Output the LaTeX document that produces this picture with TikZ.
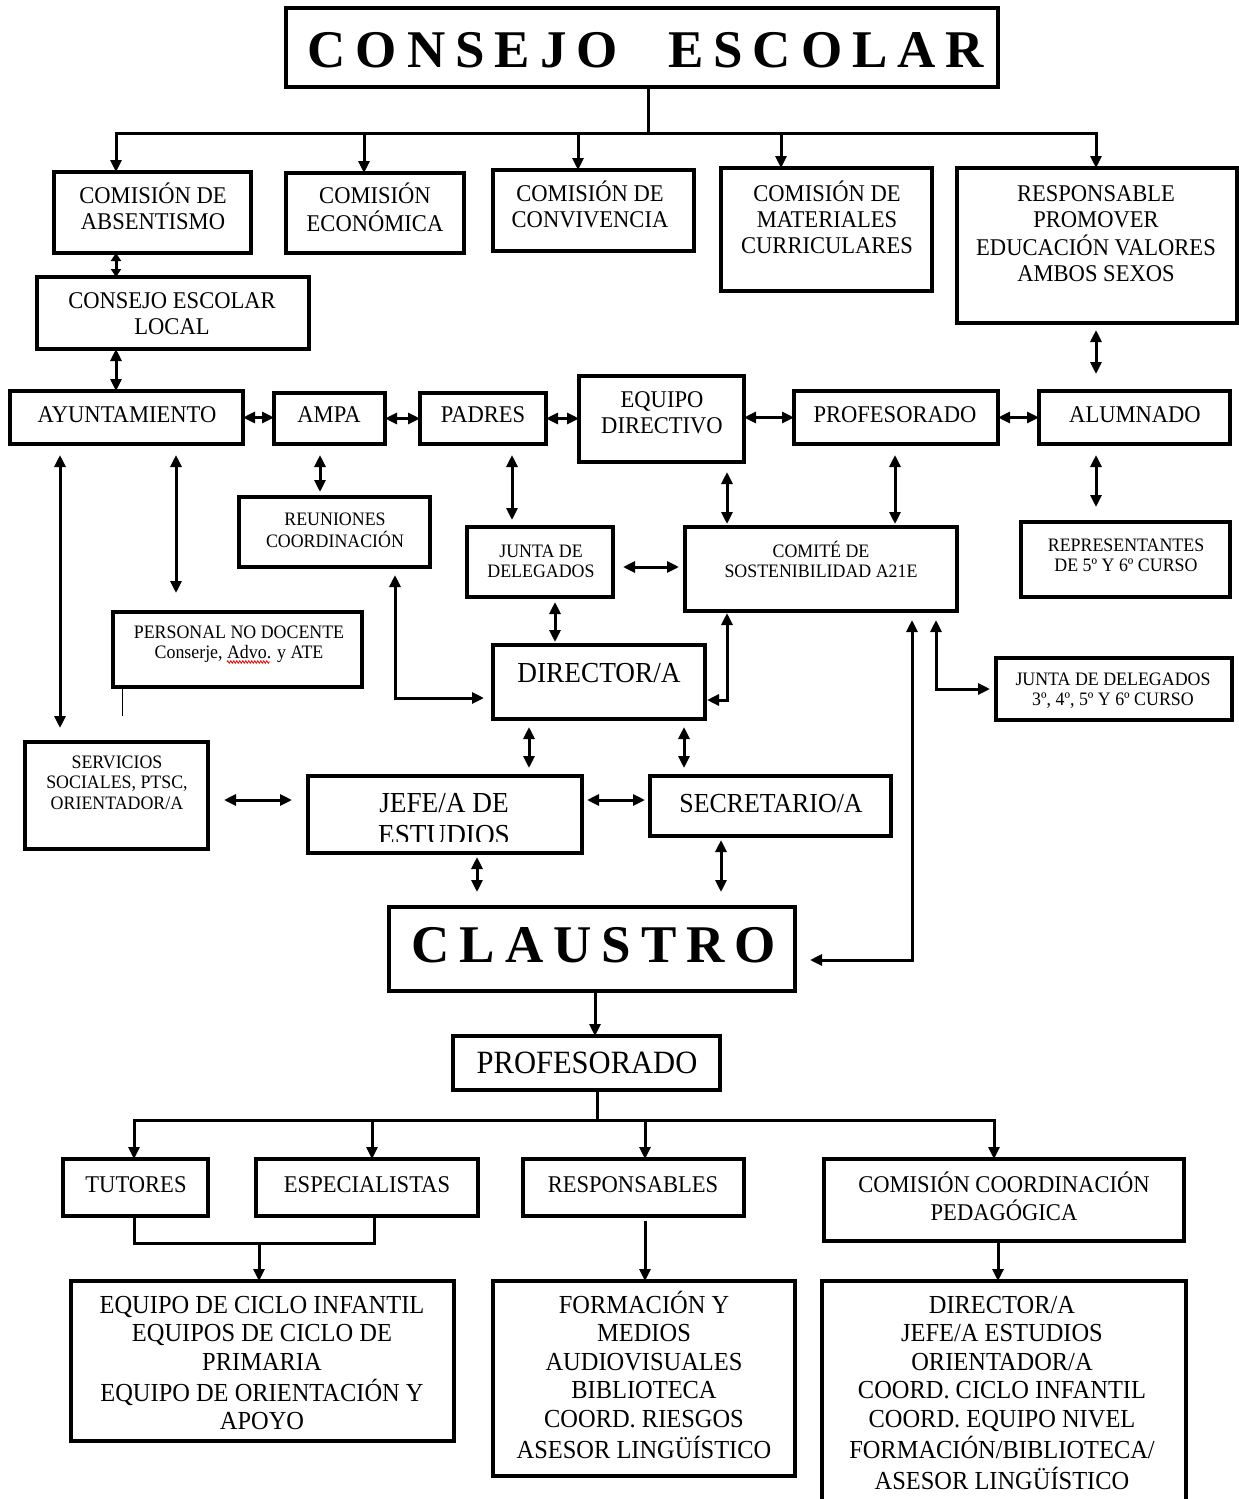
\documentclass[tikz,border=0pt]{standalone}
\usepackage{fontspec}
\setmainfont{Liberation Serif}
\usepackage{graphicx}
\usetikzlibrary{arrows.meta,fit,decorations.pathmorphing}
\tikzset{
  box/.style={draw, line width=3.3pt, inner sep=0pt, outer sep=0pt},
  ln/.style={line width=3pt, line cap=rect},
  arr/.style={ln, -{Triangle[length=12pt,width=11pt]}},
  dbl/.style={ln, {Triangle[length=12pt,width=11pt]}-{Triangle[length=12pt,width=11pt]}},
  dblsmall/.style={ln, {Triangle[length=8pt,width=10pt]}-{Triangle[length=8pt,width=10pt]}},
}
\newcommand\fN{\fontsize{24}{26}\selectfont}
\newcommand\fS{\fontsize{19}{20.5}\selectfont}
\newcommand\fB{\fontsize{26}{28.6}\selectfont}
\newcommand\fL{\fontsize{29}{32}\selectfont}
\newcommand\fT{\fontsize{53}{60}\selectfont\bfseries}
\newcommand\lsk{\kern10pt}
\newcommand\lbl[4]{\node[anchor=base, inner sep=0pt, font=#3] (#1) at (#2) {\scalebox{0.94}[1]{\begin{tabular}[t]{@{}c@{}}#4\end{tabular}}};}
\newcommand\bx[3]{\node[box, fit={(#2) (#3)}] (#1) {};}
\begin{document}
\begin{tikzpicture}[x=1pt,y=-1pt]
\useasboundingbox (0,0) rectangle (1239,1499);
% ---------- boxes
\bx{title}{286,8}{998,87}
\bx{abs}{54,172}{251,253}
\bx{eco}{286,173}{464,253}
\bx{conv}{493,170}{694,251}
\bx{mat}{721,168}{932,291}
\bx{resp}{957,168}{1237,323}
\bx{cel}{37,277}{309,349}
\bx{ayunt}{10,391}{243,444}
\bx{ampa}{274,393}{385,444}
\bx{padres}{420,393}{546,444}
\bx{eqdir}{579,376}{744,462}
\bx{prof}{794,391}{998,444}
\bx{alum}{1039,391}{1230,444}
\bx{reu}{239,497}{430,567}
\bx{junta}{467,527}{613,597}
\bx{comite}{685,527}{957,611}
\bx{repr}{1021,522}{1230,597}
\bx{pers}{113,612}{362,687}
\bx{dir}{493,645}{705,719}
\bx{junta2}{996,658}{1232,720}
\bx{serv}{25,742}{208,849}
\bx{jefe}{308,776}{582,853}
\bx{secr}{650,776}{891,836}
\bx{claus}{389,907}{795,991}
\bx{prof2}{453,1036}{720,1090}
\bx{tut}{63,1159}{208,1216}
\bx{esp}{256,1159}{478,1216}
\bx{respb}{523,1159}{744,1216}
\bx{ccp}{824,1159}{1184,1241}
\bx{eqc}{71,1281}{454,1441}
\bx{form}{493,1281}{795,1476}
\bx{dir2}{822,1281}{1186,1512}
% ---------- texts
\node[anchor=base, inner sep=0pt, font=\fT] (title-t) at (646,67) {C\lsk O\lsk N\lsk S\lsk E\lsk J\lsk O\kern50pt E\lsk S\lsk C\lsk O\lsk L\lsk A\lsk R};
\node[anchor=base, inner sep=0pt, font=\fT] (claus-t) at (594,962) {C\lsk L\lsk A\lsk U\lsk S\lsk T\lsk R\lsk O};
\lbl{abs-t}{153,203}{\fN}{COMISIÓN DE\\ABSENTISMO}
\lbl{eco-t}{375,203}{\fN}{COMISIÓN\\ECONÓMICA}
\lbl{conv-t}{590,201}{\fN}{COMISIÓN DE\\CONVIVENCIA}
\lbl{mat-t}{827,201}{\fN}{COMISIÓN DE\\MATERIALES\\CURRICULARES}
\lbl{resp-t}{1096,201}{\fN}{RESPONSABLE\\PROMOVER\\EDUCACIÓN VALORES\\AMBOS SEXOS}
\lbl{cel-t}{172,308}{\fN}{CONSEJO ESCOLAR\\LOCAL}
\lbl{ayunt-t}{127,422}{\fN}{AYUNTAMIENTO}
\lbl{ampa-t}{329,422}{\fN}{AMPA}
\lbl{padres-t}{483,422}{\fN}{PADRES}
\lbl{eqdir-t}{662,407}{\fN}{EQUIPO\\DIRECTIVO}
\lbl{prof-t}{895,422}{\fN}{PROFESORADO}
\lbl{alum-t}{1135,422}{\fN}{ALUMNADO}
\lbl{reu-t}{335,525}{\fS}{REUNIONES\\COORDINACIÓN}
\lbl{junta-t}{541,557}{\fS}{JUNTA DE\\DELEGADOS}
\lbl{comite-t}{821,557}{\fS}{COMITÉ DE\\SOSTENIBILIDAD A21E}
\lbl{repr-t}{1126,551}{\fS}{REPRESENTANTES\\DE 5º Y 6º CURSO}
\lbl{pers-t}{239,638}{\fS}{PERSONAL NO DOCENTE\\Conserje, Advo. y ATE}
\lbl{junta2-t}{1113,685}{\fS}{JUNTA DE DELEGADOS\\3º, 4º, 5º Y 6º CURSO}
\lbl{serv-t}{117,768}{\fS}{SERVICIOS\\SOCIALES, PTSC,\\ORIENTADOR/A}
\lbl{dir-t}{599,682}{\fL}{DIRECTOR/A}
\begin{scope}
\clip ([yshift=12pt]jefe.south west) rectangle (jefe.north east);
\lbl{jefe-t}{444,812}{\fL}{JEFE/A DE\\ESTUDIOS}
\end{scope}
\lbl{secr-t}{771,812}{\fontsize{27.5}{30}\selectfont}{SECRETARIO/A}
\lbl{prof2-t}{587,1073}{\fontsize{32.5}{35}\selectfont}{PROFESORADO}
\lbl{tut-t}{136,1192}{\fN}{TUTORES}
\lbl{esp-t}{367,1192}{\fN}{ESPECIALISTAS}
\lbl{respb-t}{633,1192}{\fN}{RESPONSABLES}
\lbl{ccp-t}{1004,1192}{\fN}{COMISIÓN COORDINACIÓN\\PEDAGÓGICA}
\lbl{eqc-t}{262,1313}{\fB}{EQUIPO DE CICLO INFANTIL\\EQUIPOS DE CICLO DE\\PRIMARIA\\EQUIPO DE ORIENTACIÓN Y\\APOYO}
\lbl{form-t}{644,1313}{\fB}{FORMACIÓN Y\\MEDIOS\\AUDIOVISUALES\\BIBLIOTECA\\COORD. RIESGOS\\ASESOR LINGÜÍSTICO}
\lbl{dir2-t}{1002,1313}{\fB}{DIRECTOR/A\\JEFE/A ESTUDIOS\\ORIENTADOR/A\\COORD. CICLO INFANTIL\\COORD. EQUIPO NIVEL\\FORMACIÓN/BIBLIOTECA/\\ASESOR LINGÜÍSTICO}
\draw[red, line width=0.8pt, decorate, decoration={zigzag, amplitude=1.2pt, segment length=3pt}] (227,662) -- (270,662);
% ---------- top tree
\coordinate (tj) at (648,133);
\coordinate (d1) at (116,133);
\coordinate (d2) at (364,133);
\coordinate (d3) at (578,133);
\coordinate (d4) at (781,133);
\coordinate (d5) at (1096,133);
\draw[ln] ([xshift=6pt]title.south) -- (tj);
\draw[ln] (d1) -- (d5);
\foreach \d/\n in {d1/abs,d2/eco,d3/conv,d4/mat,d5/resp} \draw[arr] (\d) -- (\d |- \n.north);
% ---------- upper connectors
\draw[dblsmall] ([xshift=62pt]abs.south west) -- ([xshift=79pt]cel.north west);
\draw[dbl] ([xshift=79pt]cel.south west) -- ([xshift=106pt]ayunt.north west);
\draw[dbl] (ayunt.east) -- (ayunt.east -| ampa.west);
\draw[dbl] (ampa.east) -- (ampa.east -| padres.west);
\draw[dbl] (padres.east) -- (padres.east -| eqdir.west);
\draw[dbl] (prof.west -| eqdir.east) -- (prof.west);
\draw[dbl] (prof.east) -- (prof.east -| alum.west);
\draw[dbl, shorten <=7pt, shorten >=17pt] ([xshift=139pt]resp.south west) -- ([xshift=57pt]alum.north west);
\draw[dbl, shorten <=11pt, shorten >=14pt] ([xshift=50pt]ayunt.south west) -- ([xshift=35pt]serv.north west);
\draw[dbl, shorten <=11pt, shorten >=19pt] ([xshift=166pt]ayunt.south west) -- ([xshift=63pt]pers.north west);
\draw[dbl, shorten <=11pt, shorten >=5pt] ([xshift=46pt]ampa.south west) -- ([xshift=81pt]reu.north west);
\draw[dbl] ([xshift=156pt,yshift=-8pt]reu.south west) |- ([xshift=-9pt,yshift=-16pt]dir.west);
\draw[dbl, shorten <=11pt, shorten >=7pt] ([xshift=92pt]padres.south west) -- ([xshift=45pt]junta.north west);
\draw[dbl, shorten <=10pt, shorten >=6pt] ([yshift=-5pt]junta.east) -- ([yshift=2pt]comite.west);
\draw[dbl, shorten <=10pt, shorten >=3pt] ([xshift=148pt]eqdir.south west) -- ([xshift=42pt]comite.north west);
\draw[dbl, shorten <=11pt, shorten >=3pt] ([xshift=101pt]prof.south west) -- ([xshift=210pt]comite.north west);
\draw[dbl, shorten <=11pt, shorten >=15pt] ([xshift=57pt]alum.south west) -- ([xshift=75pt]repr.north west);
\draw[dbl, shorten <=5pt, shorten >=3pt] ([xshift=88pt]junta.south west) -- ([xshift=62pt]dir.north west);
\draw[dbl] ([xshift=42pt,yshift=-2pt]comite.south west) |- ([xshift=2pt,yshift=-18pt]dir.east);
\draw[dbl] ([xshift=251pt,yshift=-9pt]comite.south west) |- ([xshift=-6pt]junta2.west);
\draw[dbl] ([xshift=227pt,yshift=-9pt]comite.south west) |- ([xshift=15pt,yshift=-11pt]claus.east);
\draw[dbl, shorten <=8pt, shorten >=8pt] ([xshift=36pt]dir.south west) -- ([xshift=221pt]jefe.north west);
\draw[dbl, shorten <=8pt, shorten >=8pt] ([xshift=191pt]dir.south west) -- ([xshift=34pt]secr.north west);
\draw[dbl, shorten <=16pt, shorten >=16pt] ([yshift=-4.5pt]serv.east) -- ([yshift=14.5pt]jefe.west);
\draw[dbl, shorten <=5pt, shorten >=5pt] ([yshift=14.5pt]jefe.east) -- ([yshift=6pt]secr.west);
\draw[dbl, shorten <=4pt, shorten >=15pt] ([xshift=169pt]jefe.south west) -- ([xshift=88pt]claus.north west);
\draw[dbl, shorten <=4pt, shorten >=15pt] ([xshift=71pt]secr.south west) -- ([xshift=332pt]claus.north west);
\draw[line width=1pt] ([xshift=9pt]pers.south west) -- ++(0,29);
% ---------- lower tree
\draw[arr] ([xshift=206pt]claus.south west) -- ([xshift=142pt]prof2.north west);
\coordinate (bj) at (597,1120);
\coordinate (e1) at (134,1120);
\coordinate (e2) at (372,1120);
\coordinate (e3) at (645,1120);
\coordinate (e4) at (994,1120);
\draw[ln] ([xshift=144pt]prof2.south west) -- (bj);
\draw[ln] (e1) -- (e4);
\foreach \d/\n in {e1/tut,e2/esp,e3/respb,e4/ccp} \draw[arr] (\d) -- (\d |- \n.north);
\coordinate (mj) at (259,1243);
\draw[ln] ([xshift=71pt]tut.south west) |- (mj) -| ([xshift=118pt]esp.south west);
\draw[arr] (mj) -- (mj |- eqc.north);
\draw[arr, shorten <=6pt] ([xshift=122pt]respb.south west) -- ([xshift=152pt]form.north west);
\draw[arr] ([xshift=174pt]ccp.south west) -- ([xshift=176pt]dir2.north west);
\end{tikzpicture}
\end{document}
